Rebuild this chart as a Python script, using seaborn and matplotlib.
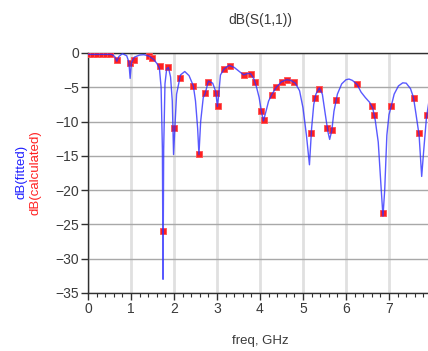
import matplotlib
matplotlib.use("Agg")
import matplotlib.pyplot as plt
from matplotlib.ticker import MultipleLocator
import pandas as pd
import seaborn as sns

# fitted model response (blue line)
fit_freq = [0.00, 0.30, 0.55, 0.62, 0.67, 0.72, 0.80, 0.90, 0.95, 0.98, 1.01, 1.08,
            1.20, 1.30, 1.42, 1.52, 1.60, 1.66, 1.70, 1.73, 1.745, 1.76, 1.79, 1.83,
            1.87, 1.92, 1.96, 1.99, 2.02, 2.06, 2.15, 2.25, 2.35, 2.45, 2.50, 2.55,
            2.58, 2.62, 2.68, 2.72, 2.80, 2.90, 2.97, 3.01, 3.04, 3.08, 3.17, 3.28,
            3.40, 3.50, 3.62, 3.70, 3.78, 3.86, 3.92, 3.98, 4.03, 4.08, 4.14, 4.20,
            4.28, 4.38, 4.50, 4.62, 4.72, 4.82, 4.92, 5.00, 5.08, 5.15, 5.20, 5.25,
            5.30, 5.38, 5.45, 5.52, 5.58, 5.62, 5.67, 5.72, 5.80, 5.90, 6.00, 6.07,
            6.15, 6.26, 6.35, 6.45, 6.55, 6.62, 6.68, 6.75, 6.82, 6.86, 6.90, 6.95,
            7.00, 7.05, 7.12, 7.22, 7.32, 7.40, 7.50, 7.57, 7.63, 7.70, 7.76, 7.81,
            7.87, 7.93, 8.00]
fit_db = [-0.2, -0.2, -0.2, -0.5, -1.2, -0.5, -0.1, -0.4, -1.3, -3.7, -1.4, -0.6,
          -0.3, -0.25, -0.45, -0.9, -1.5, -2.2, -5.0, -14.0, -33.0, -14.0, -4.5, -2.3,
          -2.1, -3.5, -7.0, -14.8, -10.9, -6.0, -3.2, -2.7, -3.3, -4.8, -7.0, -11.0,
          -14.8, -10.0, -6.5, -6.0, -4.1, -4.4, -5.6, -7.8, -6.0, -3.2, -2.3, -1.8,
          -2.1, -2.6, -3.2, -3.0, -3.0, -3.8, -5.0, -6.5, -8.4, -9.9, -8.5, -7.0,
          -6.0, -5.0, -4.2, -3.9, -4.0, -4.4, -5.5, -8.0, -12.0, -16.3, -11.0, -7.5,
          -6.0, -5.1, -6.0, -9.0, -11.5, -12.6, -11.3, -8.5, -6.0, -4.5, -3.9, -3.8,
          -4.0, -4.6, -5.7, -6.5, -7.2, -8.0, -9.8, -13.0, -20.0, -23.8, -20.0, -12.0,
          -9.0, -7.8, -6.0, -4.8, -4.35, -4.4, -5.2, -6.5, -9.0, -12.0, -18.0, -14.0,
          -9.5, -7.0, -5.5]

# calculated samples (red squares)
calc_freq = [0.03, 0.12, 0.22, 0.32, 0.42, 0.52, 0.67, 0.98, 1.06, 1.41, 1.48, 1.68,
             1.74, 1.87, 2.01, 2.13, 2.45, 2.58, 2.73, 2.80, 2.98, 3.02, 3.17, 3.31,
             3.62, 3.78, 3.89, 4.03, 4.09, 4.28, 4.38, 4.51, 4.63, 4.80, 5.19, 5.29,
             5.37, 5.56, 5.68, 5.76, 6.26, 6.61, 6.65, 6.87, 7.05, 7.57, 7.70, 7.89]
calc_db = [-0.2, -0.2, -0.2, -0.2, -0.2, -0.2, -1.0, -1.5, -1.0, -0.4, -0.8, -1.9,
           -25.9, -2.1, -10.9, -3.7, -4.8, -14.7, -5.9, -4.2, -5.8, -7.7, -2.4, -1.9,
           -3.2, -3.0, -4.2, -8.4, -9.7, -6.1, -5.0, -4.2, -4.0, -4.2, -11.7, -6.5,
           -5.2, -10.9, -11.3, -6.9, -4.55, -7.8, -9.0, -23.3, -7.8, -6.5, -11.7, -9.0]

sns.set_theme(style="white")
plt.rcParams["font.family"] = ["Liberation Sans", "DejaVu Sans"]
TXT = "#3a3a3a"

fit = pd.DataFrame({"freq": fit_freq, "db": fit_db})
calc = pd.DataFrame({"freq": calc_freq, "db": calc_db})

fig = plt.figure(figsize=(4.28, 3.51), dpi=100)
ax = fig.add_axes([88 / 428, 1 - 293 / 351, 344 / 428, 240 / 351])

sns.scatterplot(data=calc, x="freq", y="db", ax=ax, marker="s", s=20,
                color="#ff2020", edgecolor="#ff5050", linewidth=0.6, zorder=3)
sns.lineplot(data=fit, x="freq", y="db", ax=ax, color="#3030ff", lw=1.0,
             alpha=0.8, zorder=4, estimator=None, sort=False)

ax.set_xlim(0, 8)
ax.set_ylim(-35, 0)
ax.xaxis.set_major_locator(MultipleLocator(1))
ax.xaxis.set_minor_locator(MultipleLocator(0.2))
ax.yaxis.set_major_locator(MultipleLocator(5))

ax.grid(axis="x", which="major", color="#e0e0e0", lw=2.0)
ax.grid(axis="y", which="major", color="#a8a8a8", lw=1.0)
ax.set_axisbelow(True)

for side in ("left", "bottom", "top"):
    ax.spines[side].set_color("#303030")
    ax.spines[side].set_linewidth(1.0)
ax.spines["right"].set_visible(False)

ax.tick_params(axis="both", which="major", direction="out", length=5, width=1,
               color="#303030", labelsize=10, labelcolor=TXT, pad=1.5,
               bottom=True, left=True)
ax.tick_params(axis="x", which="minor", direction="out", length=3, width=0.8,
               color="#303030", bottom=True)

ax.set_xlabel("freq, GHz", fontsize=9.5, color=TXT, labelpad=14)
ax.set_ylabel("")
ax.set_title("dB(S(1,1))", fontsize=10, color=TXT, pad=21)

fig.text(22 / 428, 1 - 172 / 351, "dB(fitted)", rotation=90, color="#2020ff",
         fontsize=9.5, ha="center", va="center")
fig.text(36 / 428, 1 - 173 / 351, "dB(calculated)", rotation=90, color="#ff2020",
         fontsize=9.5, ha="center", va="center")

fig.savefig("out.png", dpi=100)
plt.close(fig)
